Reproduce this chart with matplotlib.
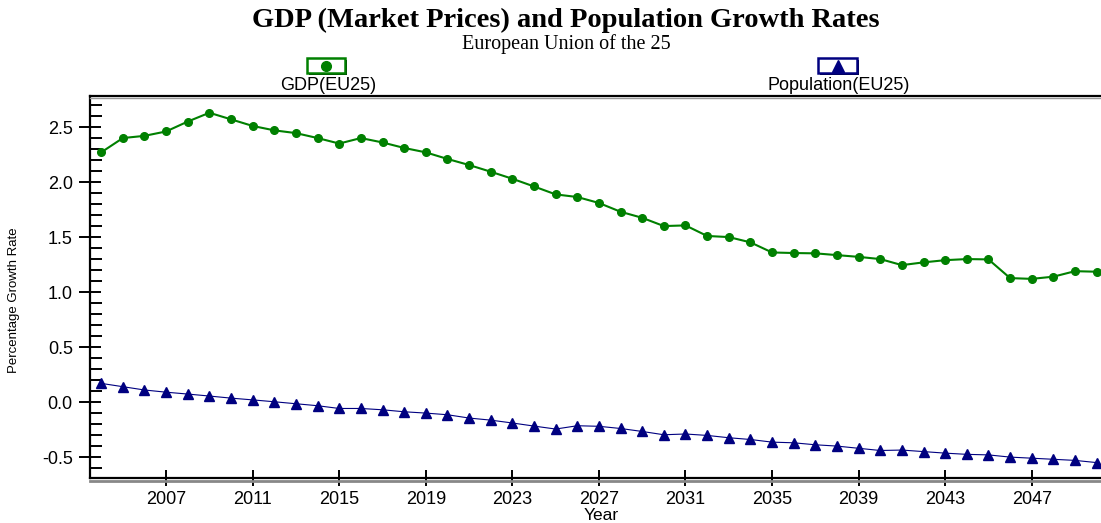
import numpy as np
import matplotlib
matplotlib.use("Agg")
import matplotlib.pyplot as plt
from matplotlib.patches import Rectangle
from matplotlib.lines import Line2D
from matplotlib.ticker import MultipleLocator, FormatStrFormatter

years = list(range(2004, 2051))
gdp = [2.27, 2.40, 2.42, 2.46, 2.55, 2.63, 2.57, 2.51, 2.47, 2.445,
       2.40, 2.35, 2.40, 2.36, 2.31, 2.27, 2.21, 2.155, 2.094, 2.03,
       1.96, 1.888, 1.864, 1.81, 1.73, 1.675, 1.60, 1.606, 1.51, 1.50,
       1.452, 1.36, 1.355, 1.352, 1.336, 1.32, 1.30, 1.245, 1.27, 1.29,
       1.30, 1.297, 1.127, 1.12, 1.14, 1.19, 1.185]
population = [0.17, 0.14, 0.11, 0.09, 0.073, 0.055, 0.036, 0.02, 0.003, -0.015,
              -0.033, -0.058, -0.058, -0.07, -0.088, -0.10, -0.115, -0.145, -0.164, -0.19,
              -0.218, -0.245, -0.215, -0.22, -0.24, -0.267, -0.297, -0.29, -0.303, -0.324,
              -0.34, -0.364, -0.37, -0.388, -0.40, -0.42, -0.44, -0.436, -0.45, -0.464,
              -0.475, -0.48, -0.50, -0.51, -0.52, -0.53, -0.55]
year_ticks = list(range(2007, 2051, 4))

W, H = 1101, 523
fig = plt.figure(figsize=(W / 100, H / 100), dpi=100)
sans = "Liberation Sans"
serif = "Liberation Serif"

ax = fig.add_axes([89.5 / W, 1 - 478 / H, 1 - 89.5 / W, (478 - 95.7) / H])
ax.plot(years, gdp, color="#008000", lw=1.5, marker="o", ms=5.5, zorder=3)
ax.plot(years, population, color="#000080", lw=0.8, marker="^", ms=7, zorder=3)

ax.set_xlim(2003.46, 2050.2)
ax.set_ylim(-0.69, 2.785)
ax.set_xticks(year_ticks)
ax.yaxis.set_major_locator(MultipleLocator(0.5))
ax.yaxis.set_minor_locator(MultipleLocator(0.1))
ax.yaxis.set_major_formatter(FormatStrFormatter("%.1f"))
ax.tick_params(axis="x", direction="inout", length=11, width=1.4, labelsize=13, pad=4)
ax.tick_params(axis="y", which="major", direction="inout", length=16, width=1.4, labelsize=13, pad=4)
ax.tick_params(axis="y", which="minor", direction="in", length=8.5, width=1.4)
for lab in ax.get_xticklabels() + ax.get_yticklabels():
    lab.set_family(sans)
ax.spines["right"].set_visible(False)
for s in ["left", "bottom", "top"]:
    ax.spines[s].set_linewidth(1.6)

# grey shadow under the x axis and top line
fig.add_artist(Line2D([89.5 / W, 1], [1 - 481 / H, 1 - 481 / H], color="#888888", lw=2))
fig.add_artist(Line2D([89.5 / W, 1], [1 - 97.5 / H, 1 - 97.5 / H], color="#999999", lw=1))

fig.text(601 / W, 1 - 516 / H, "Year", family=sans, fontsize=12.5, ha="center", va="center")
fig.text(14 / W, 1 - 300 / H, "Percentage Growth Rate", rotation=90, family=sans,
         fontsize=9.5, ha="center", va="center")

fig.text(566 / W, 1 - 20 / H, "GDP (Market Prices) and Population Growth Rates",
         family=serif, fontweight="bold", fontsize=20.5, ha="center", va="center")
fig.text(566 / W, 1 - 44 / H, "European Union of the 25", family=serif,
         fontsize=14.5, ha="center", va="center")


# legend boxes
def legend_box(x0, x1, color, marker, ms, label, lx):
    y0, y1 = 58, 73
    fig.add_artist(Rectangle(((x0 + 2) / W, 1 - (y1 + 2) / H), (x1 - x0) / W, (y1 - y0) / H,
                             transform=fig.transFigure, facecolor="black", edgecolor="none"))
    fig.add_artist(Rectangle((x0 / W, 1 - y1 / H), (x1 - x0) / W, (y1 - y0) / H,
                             transform=fig.transFigure, facecolor="white", edgecolor=color, lw=1.8))
    fig.add_artist(Line2D([(x0 + x1) / 2 / W], [1 - (y0 + y1) / 2 / H], marker=marker,
                          ms=ms, color=color, transform=fig.transFigure))
    fig.text(lx / W, 1 - 85 / H, label, family=sans, fontsize=13, ha="center", va="center")


legend_box(307, 345, "#008000", "o", 7, "GDP(EU25)", 328)
legend_box(818, 857, "#000080", "^", 9, "Population(EU25)", 839)

fig.savefig("out.png", dpi=100)
